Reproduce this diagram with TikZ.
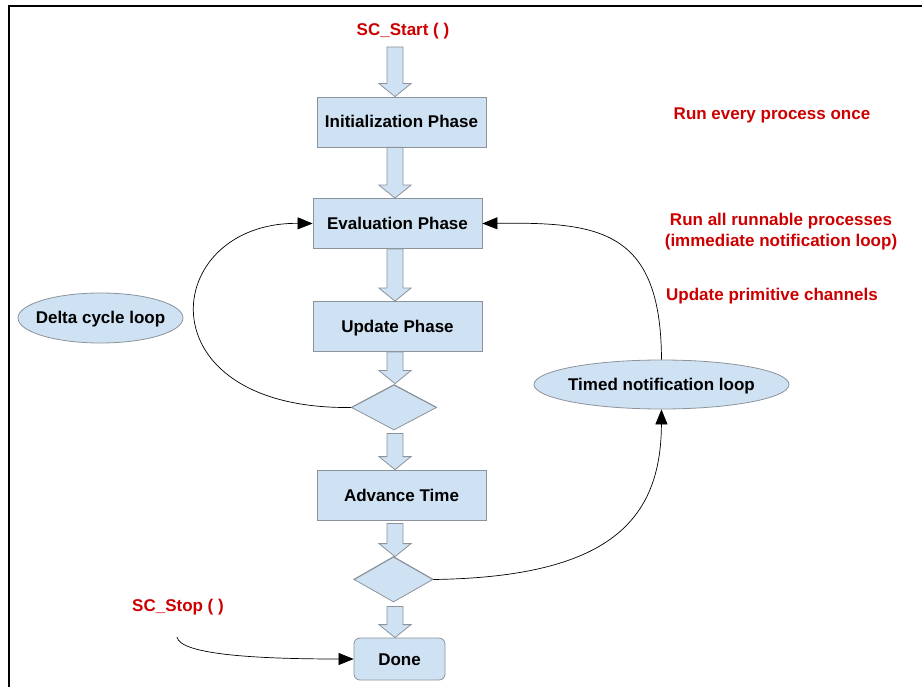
\documentclass[tikz,border=0pt]{standalone}
\usepackage{fontspec}
\setmainfont{Liberation Sans}
\usetikzlibrary{shapes.geometric,arrows.meta,calc}

\definecolor{boxblue}{RGB}{207,226,243}
\definecolor{boxline}{RGB}{140,147,155}
\definecolor{notered}{RGB}{204,0,0}

\tikzset{
  phase/.style={draw=boxline, fill=boxblue, line width=0.8pt, minimum width=169pt,
    minimum height=50pt, inner sep=0pt, text height=12pt, text depth=0pt,
    font=\fontsize{17}{20}\selectfont\bfseries},
  decision/.style={draw=boxline, fill=boxblue, line width=0.8pt, diamond, inner sep=0pt,
    minimum width=85pt, minimum height=45pt},
  loopnote/.style={draw=boxline, fill=boxblue, line width=0.8pt, ellipse, inner xsep=-10pt,
    inner ysep=0pt, text height=12pt, text depth=0pt,
    font=\fontsize{17}{20}\selectfont\bfseries},
  note/.style={text=notered, font=\fontsize{17}{20}\selectfont\bfseries, inner sep=0pt, align=center},
  flowarrow/.style={draw=boxline, fill=boxblue, line width=0.8pt, line join=miter},
  loopline/.style={draw=black, line width=0.7pt, -{Triangle[length=15pt,width=12pt]}},
}

% vertical block arrow at x = 395pt, from the first point down to the second
\newcommand\blockarrow[2]{%
  \draw[flowarrow] let \p1=#1, \p2=#2 in
    (387pt,\y1) -- (403pt,\y1) -- (403pt,\y2+13pt) -- (411pt,\y2+13pt) --
    (395pt,\y2) -- (379pt,\y2+13pt) -- (387pt,\y2+13pt) -- cycle;}

\begin{document}
\begin{tikzpicture}[x=1pt,y=-1pt]
  \useasboundingbox (0,0) rectangle (922,687);
  \fill[white] (0,0) rectangle (922,687);

  % frame lines
  \draw[line width=1.5pt] (9,687) -- (9,6) -- (922,6);

  % calls
  \node[note] (start) at (403,31) {SC\_Start ( )};
  \node[note] (stop) at (178,607) {SC\_Stop ( )};
  \coordinate (starttail) at (395,47);
  \coordinate (stoptail) at (177,637);

  % phases
  \node[phase] (init) at (401.5,122) {Initialization Phase};
  \node[phase] (eval) at (397.5,223.5) {Evaluation Phase};
  \node[phase] (upd) at (397.5,326.5) {Update Phase};
  \node[decision] (d1) at (394,407.5) {};
  \node[phase] (adv) at (401.5,495) {Advance Time};
  \node[decision, minimum width=79pt] (d2) at (393.5,579.5) {};
  \node[phase, minimum width=91pt, minimum height=42pt, rounded corners=6pt] (done) at (399.5,659) {Done};

  % loops
  \node[loopnote, minimum width=165pt, minimum height=50pt] (delta) at (100.5,318) {Delta cycle loop};
  \node[loopnote, minimum width=255pt, minimum height=49pt] (timed) at (661.5,384.5) {Timed notification loop};

  % remarks
  \node[note] (r1) at (772,115) {Run every process once};
  \node[note] (r2) at (781,232) {Run all runnable processes\\[1pt](immediate notification loop)};
  \node[note] (r3) at (772,296) {Update primitive channels};

  % main flow
  \blockarrow{(starttail)}{(init.north)}
  \blockarrow{(init.south)}{(eval.north)}
  \blockarrow{(eval.south)}{(upd.north)}
  \blockarrow{(upd.south)}{($(d1.north)+(0,-1)$)}
  \blockarrow{($(d1.south)+(0,3)$)}{(adv.north)}
  \blockarrow{($(adv.south)+(0,3)$)}{(d2.north)}
  \blockarrow{($(d2.south)+(0,4)$)}{(done.north)}
  % decision outlines kept visible under the arrow heads
  \draw[draw=boxline, line width=0.8pt] (d1.west) -- (d1.north) -- (d1.east);
  \draw[draw=boxline, line width=0.8pt] (d2.west) -- (d2.north) -- (d2.east);

  % loop connectors
  \draw[loopline] (d1.west) .. controls (140,410) and (160,222) .. (eval.west);
  \draw[loopline] (timed.north) .. controls (661,230) and (600,222) .. (eval.east);
  \draw[loopline] (d2.east) .. controls (610,577) and (661,520) .. (timed.south);
  \draw[loopline] (stoptail) .. controls (180,655) and (260,659) .. (done.west);
\end{tikzpicture}
\end{document}
